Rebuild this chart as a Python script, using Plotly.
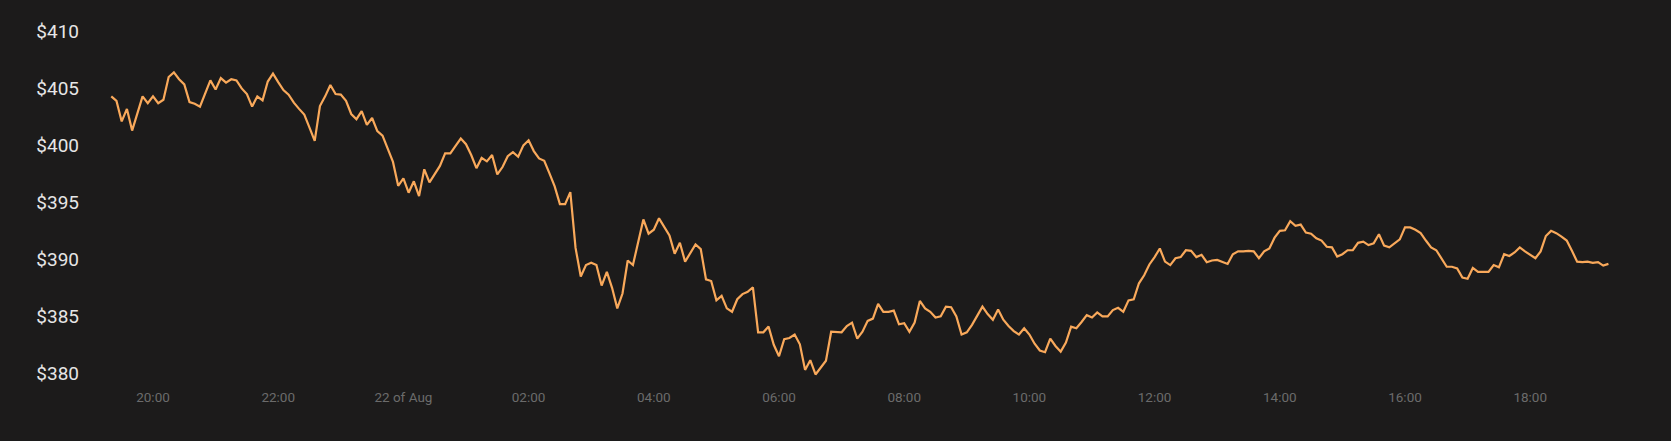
import pandas as pd
import plotly.graph_objects as go

# ---- data (5-minute prices, starting 21 Aug 19:20) ----
start_time = "2021-08-21 19:20"
prices = [
    404.3, 403.9, 402.1, 403.2, 401.3, 402.9, 404.3, 403.7, 404.3, 403.7,
    404.0, 406.0, 406.4, 405.8, 405.35, 403.8, 403.65, 403.4, 404.6, 405.7,
    404.9, 405.9, 405.5, 405.8, 405.7, 405.0, 404.5, 403.4, 404.3, 403.95,
    405.6, 406.3, 405.55, 404.85, 404.45, 403.75, 403.2, 402.7, 401.55, 400.4,
    403.45, 404.3, 405.3, 404.5, 404.45, 403.9, 402.75, 402.3, 403.0, 401.8,
    402.4, 401.25, 400.85, 399.75, 398.55, 396.45, 397.1, 395.85, 396.85, 395.55,
    397.9, 396.75, 397.5, 398.2, 399.3, 399.3, 399.95, 400.6, 400.1, 399.15,
    398.0, 398.9, 398.6, 399.15, 397.45, 398.1, 399.05, 399.4, 399.0, 400.0,
    400.45, 399.5, 398.85, 398.65, 397.55, 396.4, 394.85, 394.85, 395.9, 391.0,
    388.5, 389.5, 389.7, 389.5, 387.7, 388.9, 387.5, 385.7, 387.0, 389.9,
    389.5, 391.4, 393.5, 392.25, 392.6, 393.6, 392.9, 392.1, 390.5, 391.45,
    389.8, 390.5, 391.3, 390.9, 388.25, 388.1, 386.4, 386.8, 385.7, 385.4,
    386.5, 386.95, 387.15, 387.55, 383.6, 383.6, 384.1, 382.5, 381.5, 383.0,
    383.1, 383.4, 382.55, 380.3, 381.15, 379.9, 380.5, 381.1, 383.65, 383.6,
    383.6, 384.15, 384.45, 383.05, 383.65, 384.6, 384.8, 386.1, 385.4, 385.4,
    385.5, 384.3, 384.4, 383.65, 384.45, 386.35, 385.7, 385.4, 384.9, 385.0,
    385.85, 385.8, 385.0, 383.4, 383.6, 384.25, 385.1, 385.85, 385.2, 384.7,
    385.6, 384.7, 384.15, 383.7, 383.4, 383.95, 383.4, 382.6, 382.0, 381.85,
    383.05, 382.4, 381.9, 382.7, 384.1, 383.95, 384.5, 385.1, 384.9, 385.35,
    385.0, 385.0, 385.55, 385.75, 385.4, 386.4, 386.5, 387.9, 388.6, 389.55,
    390.2, 390.95, 389.8, 389.5, 390.1, 390.2, 390.8, 390.75, 390.2, 390.4,
    389.75, 389.9, 389.95, 389.75, 389.6, 390.45, 390.7, 390.7, 390.75, 390.7,
    390.1, 390.7, 390.95, 391.9, 392.5, 392.55, 393.35, 392.95, 393.05, 392.35,
    392.25, 391.85, 391.65, 391.1, 391.05, 390.25, 390.45, 390.8, 390.8, 391.45,
    391.55, 391.25, 391.4, 392.2, 391.2, 391.05, 391.4, 391.75, 392.8, 392.8,
    392.6, 392.3, 391.65, 391.05, 390.8, 390.1, 389.35, 389.35, 389.2, 388.4,
    388.3, 389.25, 388.9, 388.9, 388.9, 389.5, 389.3, 390.45, 390.3, 390.6,
    391.05, 390.7, 390.4, 390.1, 390.7, 392.05, 392.5, 392.3, 392.0, 391.65,
    390.75, 389.8, 389.75, 389.8, 389.7, 389.75, 389.45, 389.6,
]
times = pd.date_range(start_time, periods=len(prices), freq="5min")

tick_times = ["2021-08-21 20:00", "2021-08-21 22:00", "2021-08-22 00:00",
              "2021-08-22 02:00", "2021-08-22 04:00", "2021-08-22 06:00",
              "2021-08-22 08:00", "2021-08-22 10:00", "2021-08-22 12:00",
              "2021-08-22 14:00", "2021-08-22 16:00", "2021-08-22 18:00"]
tick_text = ["20:00", "22:00", "22 of Aug", "02:00", "04:00", "06:00",
             "08:00", "10:00", "12:00", "14:00", "16:00", "18:00"]
y_ticks = [380, 385, 390, 395, 400, 405, 410]
y_text = ["$380", "$385", "$390", "$395", "$400", "$405", "$410"]

# ---- layout geometry ----
W, H = 1671, 441
ML, MR, MT, MB = 90, 20, 20, 54
px_per_hour = 62.6
t20 = pd.Timestamp("2021-08-21 20:00")
x0 = t20 - pd.Timedelta(hours=(153 - ML) / px_per_hour)
x1 = t20 + pd.Timedelta(hours=(W - MR - 153) / px_per_hour)

BG = "#1c1b1b"

fig = go.Figure()
fig.add_trace(go.Scatter(
    x=times, y=prices, mode="lines",
    line=dict(color="#f9a95b", width=2.2),
    hoverinfo="skip", showlegend=False,
))

fig.update_layout(
    width=W, height=H,
    margin=dict(l=ML, r=MR, t=MT, b=MB),
    paper_bgcolor=BG, plot_bgcolor=BG,
    font=dict(family="Roboto, sans-serif"),
    xaxis=dict(
        range=[x0, x1], showgrid=False, zeroline=False, showline=False,
        tickvals=pd.to_datetime(tick_times), ticktext=tick_text,
        tickfont=dict(size=13.5, color="#6b6b6b"), ticks="",
    ),
    yaxis=dict(
        range=[378.8, 411], showgrid=False, zeroline=False, showline=False,
        tickvals=y_ticks, ticktext=y_text,
        tickfont=dict(size=19, color="#e6e6e6"), ticks="",
        ticklabelstandoff=10,
    ),
)

fig.write_html(
    "out.html",
    config={"displayModeBar": False},
    post_script="document.body.style.margin='0';document.body.style.background='" + BG + "';",
)
